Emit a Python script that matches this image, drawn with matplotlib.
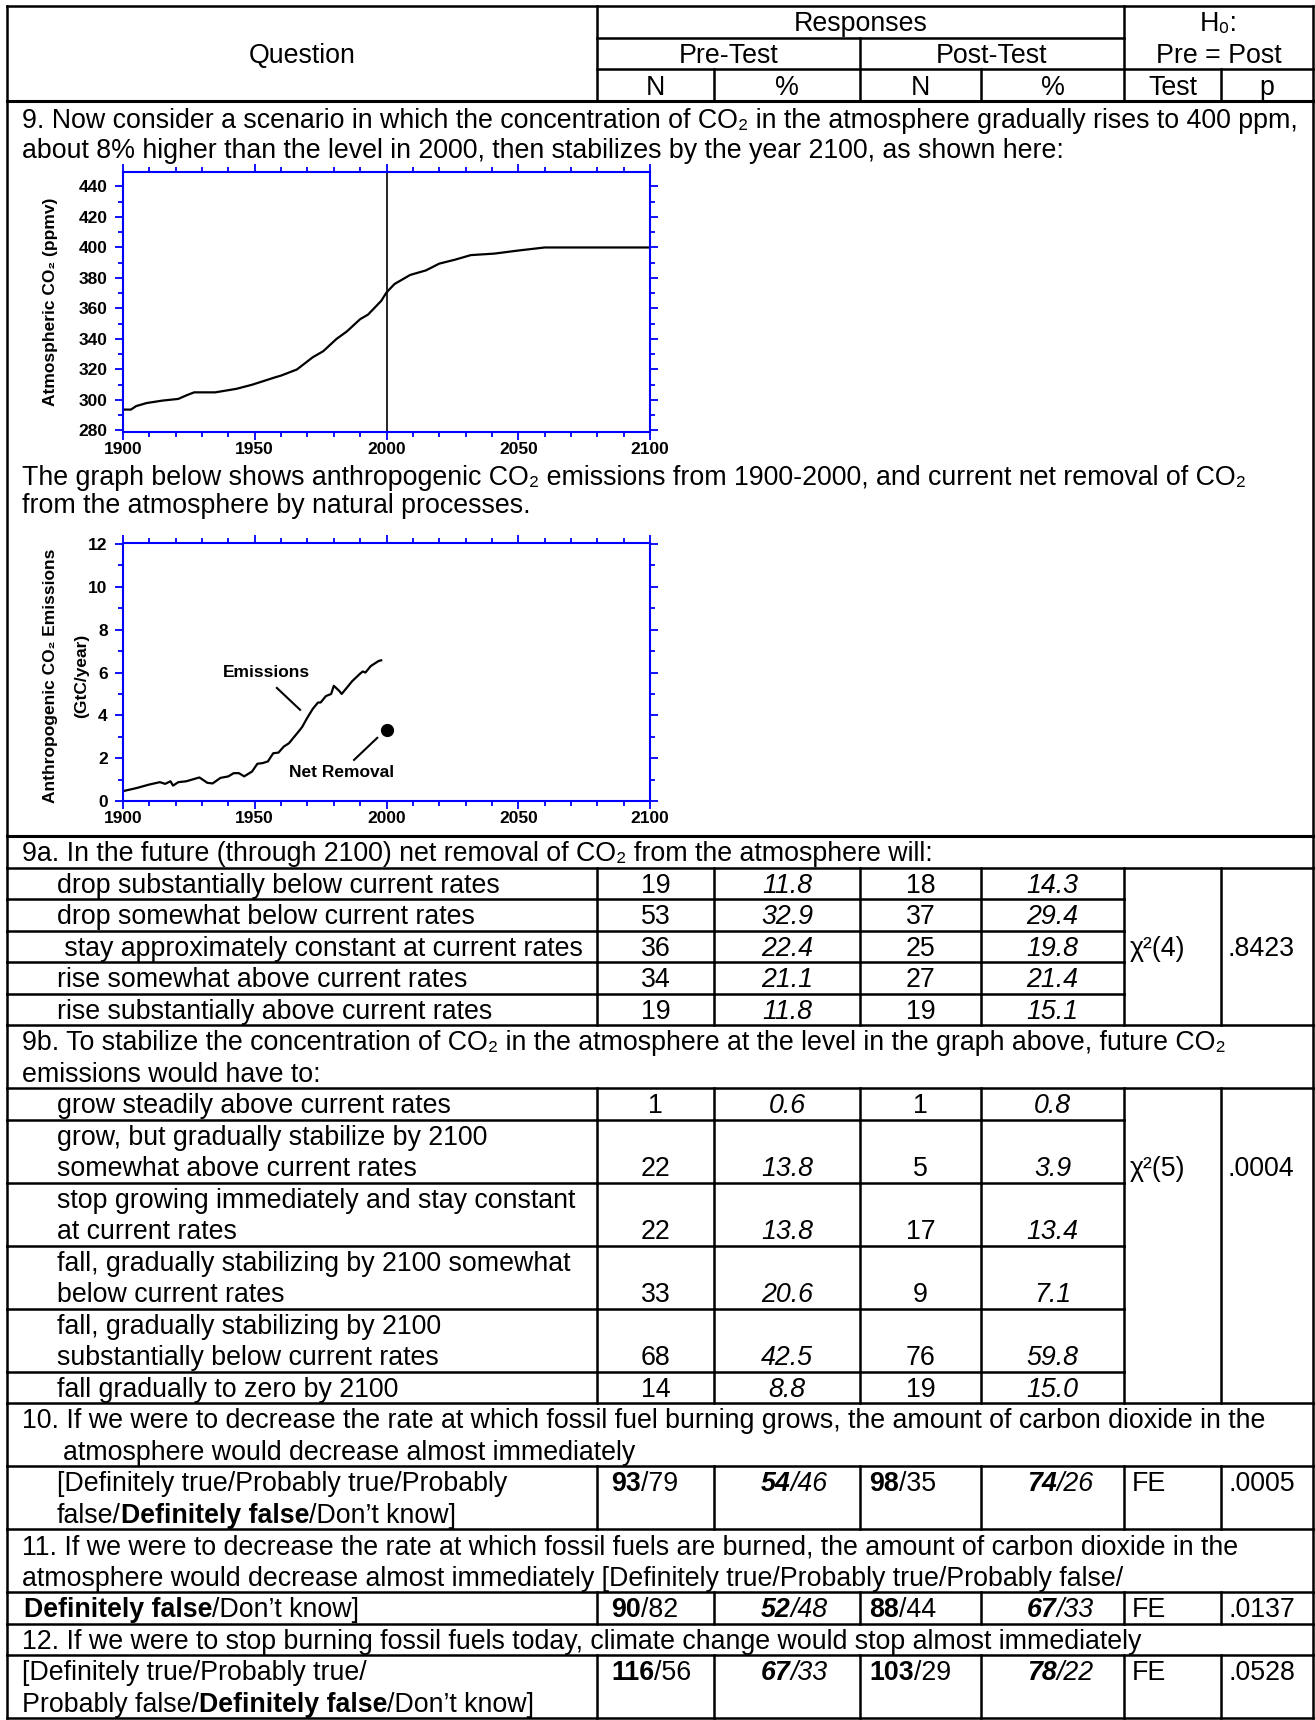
import numpy as np
import matplotlib.pyplot as plt
from matplotlib.ticker import MultipleLocator

plt.rcParams['font.family'] = ['Liberation Sans', 'DejaVu Sans']

# ---------------- data ----------------
co2_years = [1900, 1903, 1905, 1909, 1915, 1921, 1924, 1927, 1935, 1943, 1949, 1958, 1960,
             1966, 1972, 1976, 1981, 1985, 1990, 1993, 1998, 2000, 2003, 2009, 2015, 2020,
             2026, 2032, 2041, 2050, 2060, 2100]
co2_ppm = [293.7, 293.7, 296, 298, 299.6, 300.7, 303, 305, 305, 307.3, 310, 315, 316,
           320, 328, 332, 340, 345, 353, 356, 365, 370.5, 376, 382, 385, 389.4,
           392, 395, 396, 398, 400, 400]

emis_years = [1900, 1905, 1910, 1914, 1916, 1918, 1919, 1921, 1924, 1929, 1932, 1934, 1937,
              1940, 1942, 1944, 1946, 1949, 1951, 1953, 1955, 1957, 1959, 1961, 1963, 1965,
              1967, 1968, 1970, 1972, 1974, 1975, 1977, 1979, 1980, 1982, 1983, 1985, 1987,
              1990, 1991, 1992, 1994, 1997, 1998]
emis_gtc = [0.46, 0.6, 0.77, 0.88, 0.8, 0.92, 0.72, 0.88, 0.92, 1.1, 0.85, 0.82, 1.08,
            1.15, 1.3, 1.3, 1.15, 1.38, 1.74, 1.77, 1.85, 2.23, 2.26, 2.54, 2.7, 3.0,
            3.3, 3.46, 3.9, 4.3, 4.6, 4.6, 4.9, 5.0, 5.38, 5.15, 5.0, 5.3, 5.6,
            5.95, 6.05, 6.0, 6.3, 6.54, 6.57]
removal_year = [2000]
removal_gtc = [3.3]

q9_intro = ["9. Now consider a scenario in which the concentration of CO\u2082 in the atmosphere gradually rises to 400 ppm,",
            "about 8% higher than the level in 2000, then stabilizes by the year 2100, as shown here:"]
graph_intro = ["The graph below shows anthropogenic CO\u2082 emissions from 1900-2000, and current net removal of CO\u2082",
               "from the atmosphere by natural processes."]

q9a_title = "9a. In the future (through 2100) net removal of CO\u2082 from the atmosphere will:"
q9a_options = ["drop substantially below current rates",
               "drop somewhat below current rates",
               " stay approximately constant at current rates",
               "rise somewhat above current rates",
               "rise substantially above current rates"]
q9a_pre_n = [19, 53, 36, 34, 19]
q9a_pre_pct = [11.8, 32.9, 22.4, 21.1, 11.8]
q9a_post_n = [18, 37, 25, 27, 19]
q9a_post_pct = [14.3, 29.4, 19.8, 21.4, 15.1]
q9a_test = "\u03c7\u00b2(4)"
q9a_p = ".8423"

q9b_title = ["9b. To stabilize the concentration of CO\u2082 in the atmosphere at the level in the graph above, future CO\u2082",
             "emissions would have to:"]
q9b_options = [["grow steadily above current rates"],
               ["grow, but gradually stabilize by 2100", "somewhat above current rates"],
               ["stop growing immediately and stay constant", "at current rates"],
               ["fall, gradually stabilizing by 2100 somewhat", "below current rates"],
               ["fall, gradually stabilizing by 2100", "substantially below current rates"],
               ["fall gradually to zero by 2100"]]
q9b_pre_n = [1, 22, 22, 33, 68, 14]
q9b_pre_pct = [0.6, 13.8, 13.8, 20.6, 42.5, 8.8]
q9b_post_n = [1, 5, 17, 9, 76, 19]
q9b_post_pct = [0.8, 3.9, 13.4, 7.1, 59.8, 15.0]
q9b_test = "\u03c7\u00b2(5)"
q9b_p = ".0004"

q_titles = [["10. If we were to decrease the rate at which fossil fuel burning grows, the amount of carbon dioxide in the",
             "atmosphere would decrease almost immediately"],
            ["11. If we were to decrease the rate at which fossil fuels are burned, the amount of carbon dioxide in the",
             "atmosphere would decrease almost immediately [Definitely true/Probably true/Probably false/"],
            ["12. If we were to stop burning fossil fuels today, climate change would stop almost immediately"]]
q_options = [[[("[Definitely true/Probably true/Probably", "normal")],
              [("false/", "normal"), ("Definitely false", "bold"), ("/Don\u2019t know]", "normal")]],
             [[("Definitely false", "bold"), ("/Don\u2019t know]", "normal")]],
             [[("[Definitely true/Probably true/", "normal")],
              [("Probably false/", "normal"), ("Definitely false", "bold"), ("/Don\u2019t know]", "normal")]]]
q_pre_n = [(93, 79), (90, 82), (116, 56)]
q_pre_pct = [(54, 46), (52, 48), (67, 33)]
q_post_n = [(98, 35), (88, 44), (103, 29)]
q_post_pct = [(74, 26), (67, 33), (78, 22)]
q_test = ["FE", "FE", "FE"]
q_p = [".0005", ".0137", ".0528"]

# ---------------- figure ----------------
W, H = 1315, 1720
fig = plt.figure(figsize=(W / 100, H / 100), dpi=100)
ax0 = fig.add_axes([0, 0, 1, 1])
ax0.set_xlim(0, W)
ax0.set_ylim(H, 0)
ax0.axis('off')
renderer = fig.canvas.get_renderer()

FS = 19.3
TFS = 12.5
L, R = 7, 1313
cols = [597, 714, 860, 981, 1124, 1221]
h = 31.5
LW = 1.8


def hline(y, x0=L, x1=R, lw=LW):
    ax0.plot([x0, x1], [y, y], color='black', lw=lw, solid_capstyle='projecting')


def vline(x, y0, y1, lw=LW):
    ax0.plot([x, x], [y0, y1], color='black', lw=lw, solid_capstyle='projecting')


def runs(x, yc, parts, ha='left', size=FS):
    # parts: (text, weight, style); drawn one after another on a shared baseline
    base = yc + 0.36 * size * 100 / 72
    arts, widths = [], []
    for s, wt, st in parts:
        t = ax0.text(0, base, s, fontsize=size, weight=wt, style=st, va='baseline', ha='left')
        arts.append(t)
        widths.append(t.get_window_extent(renderer).width)
    total = sum(widths)
    if ha == 'center':
        x -= total / 2
    elif ha == 'right':
        x -= total
    for t, w in zip(arts, widths):
        t.set_x(x)
        x += w


def plain(x, yc, s, ha='left', style='normal', weight='normal'):
    runs(x, yc, [(s, weight, style)], ha=ha)


ncen = [(cols[0] + cols[1]) / 2, (cols[1] + cols[2]) / 2, (cols[2] + cols[3]) / 2, (cols[3] + cols[4]) / 2]

# ---- header ----
top = 6
r1, r2, r3 = 37.5, 69, 101
hline(top)
hline(r1, cols[0], cols[4])
hline(r2, cols[0], R)
hline(r3, lw=2.2)
vline(L, top, r3)
vline(R, top, r3)
vline(cols[0], top, r3)
vline(cols[4], top, r3)
vline(cols[2], r1, r3)
for c in (cols[1], cols[3], cols[5]):
    vline(c, r2, r3)
plain((L + cols[0]) / 2, (top + r3) / 2, "Question", ha='center')
plain((cols[0] + cols[4]) / 2, (top + r1) / 2, "Responses", ha='center')
plain((cols[4] + R) / 2, (top + r1) / 2, "H\u2080:", ha='center')
plain((cols[0] + cols[2]) / 2, (r1 + r2) / 2, "Pre-Test", ha='center')
plain((cols[2] + cols[4]) / 2, (r1 + r2) / 2, "Post-Test", ha='center')
plain((cols[4] + R) / 2, (r1 + r2) / 2, "Pre = Post", ha='center')
for lab, xc in zip(["N", "%", "N", "%"], ncen):
    plain(xc, (r2 + r3) / 2, lab, ha='center')
plain((cols[4] + cols[5]) / 2, (r2 + r3) / 2, "Test", ha='center')
plain((cols[5] + R) / 2, (r2 + r3) / 2, "p", ha='center')

# ---- question 9 block with the two graphs ----
q9_end = 836
vline(L, r3, q9_end)
vline(R, r3, q9_end)
plain(22, 118, q9_intro[0])
plain(22, 148, q9_intro[1])
plain(22, 475, graph_intro[0])
plain(22, 503, graph_intro[1])


def px_axes(l, t, r, b):
    return fig.add_axes([l / W, 1 - b / H, (r - l) / W, (b - t) / H])


def style_chart(ax, yticks, yminor):
    for sp in ax.spines.values():
        sp.set_color('blue')
        sp.set_linewidth(1.5)
    ax.set_facecolor('none')
    ax.set_xlim(1900, 2100)
    xt = [1900, 1950, 2000, 2050, 2100]
    ax.set_xticks(xt)
    ax.set_xticklabels([str(v) for v in xt], fontweight='bold', fontsize=TFS)
    ax.set_yticks(yticks)
    ax.set_yticklabels([str(v) for v in yticks], fontweight='bold', fontsize=TFS)
    ax.xaxis.set_minor_locator(MultipleLocator(10))
    ax.yaxis.set_minor_locator(MultipleLocator(yminor))
    ax.tick_params(which='both', direction='out', color='blue', width=1.3,
                   top=True, right=True, labeltop=False, labelright=False)
    ax.tick_params(which='major', length=6)
    ax.tick_params(which='minor', length=3.5)
    ax.tick_params(axis='x', pad=1.5)
    ax.tick_params(axis='y', pad=5)


ax1 = px_axes(123, 172, 650, 432)
ax1.plot(co2_years, co2_ppm, color='black', lw=1.6)
ax1.axvline(2000, color='black', lw=1.2)
style_chart(ax1, list(range(280, 441, 20)), 10)
ax1.set_ylim(279, 449.5)
ax0.text(51, 302, "Atmospheric CO\u2082 (ppmv)", rotation=90, ha='center', va='center',
         fontsize=TFS, fontweight='bold')

ax2 = px_axes(123, 543, 650, 801)
ax2.plot(emis_years, emis_gtc, color='black', lw=1.6)
ax2.plot(removal_year, removal_gtc, 'o', color='black', ms=8.5)
style_chart(ax2, list(range(0, 13, 2)), 1)
ax2.set_ylim(0, 12.05)
ax2.plot([1958.4, 1967.2], [5.28, 4.26], color='black', lw=1.5)
ax2.plot([1987.7, 1996.5], [1.92, 2.95], color='black', lw=1.5)
ax2.text(1954.4, 6.0, "Emissions", ha='center', va='center', fontsize=TFS, fontweight='bold')
ax2.text(1983, 1.34, "Net Removal", ha='center', va='center', fontsize=TFS, fontweight='bold')
ax0.text(51, 676, "Anthropogenic CO\u2082 Emissions", rotation=90, ha='center', va='center',
         fontsize=TFS, fontweight='bold')
ax0.text(82, 676, "(GtC/year)", rotation=90, ha='center', va='center',
         fontsize=TFS, fontweight='bold')

# ---- 9a ----
y = q9_end
hline(y, lw=2.2)
plain(22, y + h / 2, q9a_title)
vline(L, y, y + h)
vline(R, y, y + h)
y += h
hline(y)
blk_top = y
for i, opt in enumerate(q9a_options):
    plain(57, y + h / 2, opt)
    plain(ncen[0], y + h / 2, str(q9a_pre_n[i]), ha='center')
    plain(ncen[1], y + h / 2, f"{q9a_pre_pct[i]:.1f}", ha='center', style='italic')
    plain(ncen[2], y + h / 2, str(q9a_post_n[i]), ha='center')
    plain(ncen[3], y + h / 2, f"{q9a_post_pct[i]:.1f}", ha='center', style='italic')
    if i == 2:
        plain(cols[4] + 6, y + h / 2, q9a_test)
        plain(cols[5] + 7, y + h / 2, q9a_p)
    for c in [L] + cols[:5]:
        vline(c, y, y + h)
    y += h
    if i < len(q9a_options) - 1:
        hline(y, L, cols[4])
vline(cols[5], blk_top, y)
vline(R, blk_top, y)
hline(y)

# ---- 9b ----
plain(22, y + h / 2, q9b_title[0])
plain(22, y + 1.5 * h, q9b_title[1])
vline(L, y, y + 2 * h)
vline(R, y, y + 2 * h)
y += 2 * h
hline(y)
blk_top = y
for i, lines in enumerate(q9b_options):
    n = len(lines)
    for k, s in enumerate(lines):
        plain(57, y + (k + 0.5) * h, s)
    yv = y + (n - 0.5) * h
    plain(ncen[0], yv, str(q9b_pre_n[i]), ha='center')
    plain(ncen[1], yv, f"{q9b_pre_pct[i]:.1f}", ha='center', style='italic')
    plain(ncen[2], yv, str(q9b_post_n[i]), ha='center')
    plain(ncen[3], yv, f"{q9b_post_pct[i]:.1f}", ha='center', style='italic')
    if i == 1:
        plain(cols[4] + 6, yv, q9b_test)
        plain(cols[5] + 7, yv, q9b_p)
    for c in [L] + cols[:5]:
        vline(c, y, y + n * h)
    y += n * h
    if i < len(q9b_options) - 1:
        hline(y, L, cols[4])
vline(cols[5], blk_top, y)
vline(R, blk_top, y)
hline(y)

# ---- questions 10-12 ----
title_x = [[22, 63], [22, 22], [22]]
opt_x = [57, 24, 22]
for q in range(3):
    tl = q_titles[q]
    for k, s in enumerate(tl):
        plain(title_x[q][k], y + (k + 0.5) * h, s)
    vline(L, y, y + len(tl) * h)
    vline(R, y, y + len(tl) * h)
    y += len(tl) * h
    hline(y)
    ol = q_options[q]
    for k, parts in enumerate(ol):
        runs(opt_x[q], y + (k + 0.5) * h, [(s, wt, 'normal') for s, wt in parts])
    yv = y + h / 2
    a, b = q_pre_n[q]
    runs(cols[0] + 14, yv, [(str(a), 'bold', 'normal'), (f"/{b}", 'normal', 'normal')])
    a, b = q_pre_pct[q]
    runs(cols[2] - 32, yv, [(str(a), 'bold', 'italic'), (f"/{b}", 'normal', 'italic')], ha='right')
    a, b = q_post_n[q]
    runs(cols[2] + 9, yv, [(str(a), 'bold', 'normal'), (f"/{b}", 'normal', 'normal')])
    a, b = q_post_pct[q]
    runs(cols[4] - 30, yv, [(str(a), 'bold', 'italic'), (f"/{b}", 'normal', 'italic')], ha='right')
    plain(cols[4] + 8, yv, q_test[q])
    plain(cols[5] + 8, yv, q_p[q])
    for c in [L] + cols + [R]:
        vline(c, y, y + len(ol) * h)
    y += len(ol) * h
    hline(y)

fig.savefig('out.png', dpi=100)
